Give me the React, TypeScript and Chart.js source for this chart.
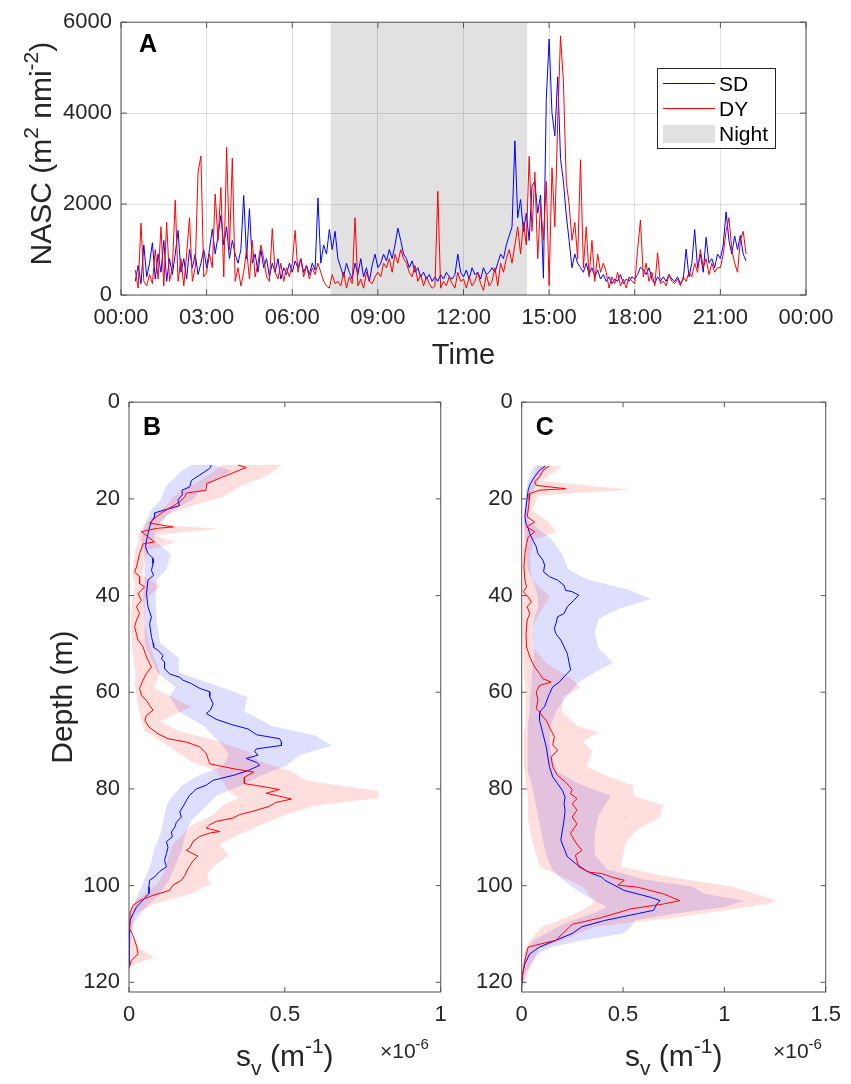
import React, { useEffect, useRef } from 'react';
import { Chart, registerables } from 'chart.js';

Chart.register(...registerables);

// ---------------- Panel A data (NASC time series) ----------------
const TIME_START_H = 0.5;
const TIME_STEP_H = 0.1;
const TIME_TICK_LABELS = ['00:00', '03:00', '06:00', '09:00', '12:00', '15:00', '18:00', '21:00', '00:00'];
const NIGHT_START_H = 7.35;
const NIGHT_END_H = 14.23;

const NASC_SD = [
  300, 650, 250, 1100, 400,
  700, 1150, 350, 900, 500, 1200, 300, 800, 450, 900,
  1420, 500, 800, 350, 1000, 600, 900, 450, 700, 1000,
  600, 1000, 1450, 900, 1300, 1750, 1100, 1500, 800, 1200,
  900, 700, 1000, 2190, 800, 1900, 700, 900, 500, 1000,
  600, 800, 400, 700, 500, 800, 350, 600, 450, 700,
  500, 750, 600, 800, 500, 650, 450, 700, 550, 2135,
  700, 1100, 900, 1440, 1000, 1400, 800, 600, 400, 700,
  500, 350, 700, 450, 800, 400, 600, 300, 650, 900,
  600, 700, 900, 750, 1000, 800, 1100, 1470, 1200, 900,
  800, 600, 750, 500, 600, 400, 500, 350, 450, 300,
  400, 300, 450, 350, 500, 400, 350, 450, 900, 500,
  400, 550, 350, 600, 450, 500, 350, 600, 450, 500,
  600, 500, 700, 900, 800, 1100, 1300, 1500, 3390, 1700,
  2100, 1400, 1800, 1200, 2400, 2500, 1800, 2200, 370, 4300,
  5630, 4000, 3500, 4800, 3000, 2500, 1760, 1200, 600, 900,
  700, 600, 500, 700, 450, 600, 400, 550, 350, 450,
  300, 400, 250, 350, 300, 450, 250, 350, 300, 400,
  350, 450, 610, 550, 450, 600, 350, 250, 400, 300,
  400, 300, 450, 350, 300, 400, 250, 350, 1010, 400,
  700, 1440, 600, 900, 500, 1270, 700, 800, 600, 900,
  800, 1100, 1830, 1200, 900, 1300, 1000, 1310, 900, 750,
];

const NASC_DY = [
  550, 150, 1580, 300, 200,
  450, 250, 1000, 350, 1500, 200, 1600, 300, 600, 2085,
  300, 800, 200, 900, 1700, 300, 600, 2700, 3060, 400,
  500, 900, 600, 2220, 1200, 2365, 400, 3250, 1000, 3010,
  300, 600, 200, 500, 1000, 350, 1200, 400, 700, 1100,
  800, 400, 300, 1460, 500, 350, 700, 300, 600, 400,
  700, 1420, 500, 800, 400, 650, 350, 600, 450, 700,
  500, 300, 200, 150, 450, 250, 300, 200, 500, 150,
  400, 250, 1700, 200, 350, 150, 500, 300, 250, 400,
  500, 400, 700, 600, 800, 500, 900, 700, 1000, 800,
  700, 500, 400, 650, 300, 450, 200, 400, 250, 150,
  200, 2280, 150, 300, 200, 400, 250, 150, 500, 300,
  350, 150, 400, 200, 300, 500, 250, 100, 450, 200,
  300, 600, 200, 700, 500, 800, 1000, 700, 1100, 1500,
  900, 1600, 1100, 3050, 1400, 2700, 800, 2000, 1200, 2500,
  200, 2800, 1500, 3800, 5700, 4700, 2500, 2000, 1200, 1600,
  800, 2975, 600, 1500, 400, 1200, 300, 900, 500, 700,
  500, 150, 400, 250, 500, 200, 350, 150, 400, 300,
  250, 1000, 1650, 400, 700, 300, 500, 200, 930, 250,
  300, 200, 450, 300, 250, 350, 200, 400, 300, 500,
  400, 700, 500, 1000, 600, 800, 450, 700, 500, 600,
  600, 900, 1400, 1700, 1000, 700, 500, 1200, 1400, 900,
];

// ---------------- Panel B data: [depth m, sv (x1e-6 m^-1)] ----------------
const B_SD_PROFILE: [number, number][] = [
  [13.0, 0.264], [13.7, 0.259], [16.2, 0.2], [17.5, 0.195], [18.2, 0.17], [19.2, 0.171], [20.2, 0.157], [21.4, 0.162],
  [22.0, 0.13], [22.9, 0.082], [23.7, 0.082], [24.7, 0.072], [25.8, 0.066], [28.6, 0.056], [29.9, 0.053], [31.3, 0.061],
  [32.3, 0.077], [33.4, 0.077], [34.8, 0.072], [35.8, 0.079], [36.8, 0.061], [39.6, 0.056], [42.3, 0.061], [44.5, 0.072],
  [45.8, 0.066], [48.5, 0.072], [49.8, 0.077], [50.7, 0.079], [51.3, 0.093], [52.4, 0.109], [53.1, 0.104], [53.7, 0.114],
  [55.1, 0.114], [56.2, 0.13], [56.9, 0.163], [57.5, 0.173], [58.2, 0.2], [59.2, 0.227], [59.9, 0.259], [60.9, 0.259],
  [62.4, 0.27], [63.7, 0.261], [64.4, 0.248], [65.6, 0.28], [66.7, 0.33], [67.6, 0.382], [68.8, 0.41], [69.6, 0.483],
  [70.3, 0.489], [71.0, 0.489], [71.7, 0.409], [72.3, 0.403], [73.0, 0.414], [73.7, 0.376], [74.5, 0.409], [75.1, 0.419],
  [76.2, 0.382], [77.2, 0.334], [78.2, 0.27], [79.2, 0.248], [80.0, 0.216], [80.7, 0.205], [81.3, 0.194], [82.4, 0.184],
  [83.7, 0.173], [84.7, 0.163], [85.8, 0.168], [86.9, 0.152], [87.9, 0.147], [88.9, 0.136], [89.9, 0.139], [90.9, 0.12],
  [92.1, 0.125], [93.4, 0.12], [94.8, 0.114], [96.1, 0.12], [97.1, 0.098], [98.2, 0.082], [98.9, 0.066], [100.3, 0.064],
  [101.6, 0.064], [103.0, 0.045], [104.4, 0.024], [105.8, 0.013], [107.1, 0.004], [108.5, 0.002], [110.7, 0], [116.8, 0],
];

const B_DY_PROFILE: [number, number][] = [
  [13.0, 0.35], [13.5, 0.376], [16.8, 0.25], [18.2, 0.247], [18.8, 0.184], [19.6, 0.179], [20.6, 0.163], [21.5, 0.141],
  [22.7, 0.109], [23.7, 0.088], [25.0, 0.066], [25.8, 0.141], [26.1, 0.088], [26.8, 0.04], [28.9, 0.082], [29.3, 0.045],
  [31.3, 0.034], [34.1, 0.024], [35.1, 0.018], [36.1, 0.034], [37.5, 0.034], [38.2, 0.05], [39.6, 0.029], [41.0, 0.04],
  [42.3, 0.024], [43.7, 0.034], [45.1, 0.024], [46.5, 0.018], [49.2, 0.029], [50.6, 0.045], [52.7, 0.056], [54.8, 0.072],
  [56.1, 0.056], [57.5, 0.045], [59.2, 0.034], [60.6, 0.04], [61.7, 0.056], [62.7, 0.066], [63.7, 0.077], [64.8, 0.056],
  [65.8, 0.051], [67.2, 0.064], [68.6, 0.093], [69.6, 0.125], [70.3, 0.184], [71.3, 0.227], [72.7, 0.248], [74.8, 0.259],
  [75.8, 0.334], [76.5, 0.4], [77.6, 0.37], [78.9, 0.37], [79.2, 0.4], [80.1, 0.483], [80.9, 0.44], [81.5, 0.483],
  [82.1, 0.521], [82.8, 0.47], [83.6, 0.45], [84.6, 0.398], [85.3, 0.355], [86.0, 0.334], [86.7, 0.28], [87.4, 0.259],
  [88.1, 0.248], [88.8, 0.291], [89.1, 0.26], [89.8, 0.227], [90.9, 0.205], [92.2, 0.195], [92.7, 0.184], [93.9, 0.221],
  [94.9, 0.205], [96.5, 0.189], [97.9, 0.179], [98.9, 0.168], [99.9, 0.141], [101.0, 0.13], [102.0, 0.077], [103.1, 0.034],
  [104.1, 0.013], [105.5, 0.004], [108.9, 0.002], [110.3, 0.013], [112.4, 0.024], [114.1, 0.029], [115.5, 0.007], [117.2, 0],
];

// [depth, low, high]
const B_SD_BAND: [number, number, number][] = [
  [13.0, 0.2, 0.27], [14.2, 0.17, 0.33], [17.3, 0.12, 0.25], [20.3, 0.1, 0.2], [22.4, 0.07, 0.14], [25.4, 0.05, 0.09],
  [28.5, 0.04, 0.08], [31.5, 0.05, 0.135], [34.6, 0.05, 0.12], [36.6, 0.05, 0.09], [40.7, 0.045, 0.085], [45.8, 0.05, 0.09],
  [49.8, 0.05, 0.1], [52.9, 0.07, 0.16], [55.9, 0.09, 0.16], [59.0, 0.15, 0.3], [61.0, 0.13, 0.38], [64.0, 0.16, 0.37],
  [67.0, 0.24, 0.46], [69.0, 0.27, 0.6], [71.0, 0.3, 0.65], [73.0, 0.32, 0.55], [75.3, 0.3, 0.5], [77.3, 0.22, 0.42],
  [79.3, 0.17, 0.36], [81.4, 0.14, 0.28], [83.4, 0.12, 0.25], [86.5, 0.11, 0.2], [89.5, 0.1, 0.18], [92.6, 0.08, 0.17],
  [95.6, 0.07, 0.15], [98.7, 0.05, 0.13], [101.7, 0.03, 0.1], [104.8, 0.01, 0.05], [107.8, 0, 0.015], [111.9, 0, 0.005],
];

const B_DY_BAND: [number, number, number][] = [
  [13.0, 0.3, 0.49], [15.3, 0.25, 0.44], [17.3, 0.2, 0.36], [19.6, 0.14, 0.3], [21.4, 0.12, 0.2], [23.4, 0.08, 0.12],
  [25.4, 0.05, 0.1], [26.2, 0.04, 0.29], [27.5, 0.03, 0.08], [29.0, 0.03, 0.15], [30.5, 0.02, 0.06], [35.6, 0.01, 0.04],
  [38.1, 0.02, 0.1], [40.7, 0.01, 0.05], [45.8, 0.005, 0.05], [50.9, 0.01, 0.07], [55.9, 0.02, 0.1], [59.0, 0.02, 0.08],
  [63.0, 0.03, 0.2], [66.0, 0.04, 0.1], [68.0, 0.05, 0.16], [70.0, 0.1, 0.28], [72.2, 0.15, 0.38], [74.3, 0.2, 0.42],
  [76.3, 0.28, 0.52], [78.3, 0.3, 0.57], [80.4, 0.32, 0.8], [81.9, 0.35, 0.8], [83.4, 0.3, 0.6], [85.4, 0.27, 0.5],
  [87.5, 0.2, 0.42], [89.5, 0.17, 0.35], [91.5, 0.14, 0.29], [93.6, 0.13, 0.32], [95.6, 0.12, 0.28], [97.6, 0.11, 0.25],
  [99.7, 0.09, 0.26], [101.7, 0.05, 0.2], [103.8, 0.01, 0.08], [105.8, 0, 0.02], [109.9, 0, 0.005], [112.8, 0, 0.03],
  [114.8, 0, 0.08], [116.5, 0, 0.01],
];

// ---------------- Panel C data ----------------
const C_SD_PROFILE: [number, number][] = [
  [13.2, 0.117], [14.1, 0.088], [15.4, 0.064], [16.8, 0.043], [18.2, 0.032], [19.9, 0.027], [21.7, 0.021], [23.7, 0.016],
  [25.1, 0.021], [26.1, 0.032], [27.2, 0.04], [28.6, 0.056], [29.9, 0.072], [31.3, 0.08], [32.7, 0.105], [33.7, 0.113],
  [35.1, 0.108], [36.1, 0.137], [36.8, 0.177], [37.9, 0.209], [38.9, 0.217], [39.2, 0.249], [39.9, 0.281], [41.0, 0.257],
  [42.3, 0.225], [43.7, 0.209], [44.4, 0.177], [45.8, 0.169], [46.8, 0.161], [47.9, 0.169], [49.2, 0.193], [50.6, 0.209],
  [52.0, 0.225], [53.7, 0.233], [55.4, 0.241], [56.1, 0.225], [56.8, 0.209], [57.9, 0.185], [58.9, 0.153], [60.3, 0.137],
  [61.7, 0.124], [63.0, 0.113], [63.7, 0.096], [64.4, 0.088], [65.8, 0.088], [68.6, 0.105], [71.3, 0.121], [73.4, 0.129],
  [75.4, 0.137], [77.5, 0.153], [78.9, 0.177], [80.3, 0.201], [81.7, 0.214], [83.0, 0.209], [84.4, 0.214], [86.5, 0.209],
  [88.5, 0.201], [90.6, 0.193], [92.3, 0.209], [94.0, 0.225], [95.4, 0.265], [96.8, 0.314], [97.5, 0.346], [98.2, 0.394],
  [98.9, 0.41], [99.6, 0.442], [100.3, 0.474], [101.0, 0.506], [101.7, 0.571], [102.4, 0.635], [103.1, 0.683], [103.8, 0.667],
  [105.1, 0.651], [105.8, 0.571], [107.2, 0.41], [108.5, 0.297], [109.9, 0.249], [111.3, 0.169], [112.7, 0.088], [114.1, 0.04],
  [116.1, 0.016], [118.2, 0.005], [121.0, 0],
];

const C_DY_PROFILE: [number, number][] = [
  [13.2, 0.137], [14.1, 0.105], [15.4, 0.088], [16.5, 0.064], [17.2, 0.072], [17.9, 0.217], [18.2, 0.088], [18.9, 0.04],
  [20.3, 0.037], [22.3, 0.032], [23.7, 0.027], [24.8, 0.064], [25.8, 0.024], [26.8, 0.064], [27.9, 0.032], [29.2, 0.024],
  [31.3, 0.016], [34.1, 0.011], [36.8, 0.016], [38.2, 0.024], [39.2, 0.008], [40.3, 0.032], [41.3, 0.048], [42.3, 0.027],
  [43.7, 0.04], [45.1, 0.027], [47.9, 0.021], [50.6, 0.024], [52.7, 0.04], [54.8, 0.064], [56.1, 0.088], [57.2, 0.105],
  [57.9, 0.145], [58.6, 0.088], [59.9, 0.072], [61.7, 0.08], [63.4, 0.072], [64.1, 0.088], [65.1, 0.105], [65.8, 0.121],
  [67.9, 0.145], [69.2, 0.161], [70.9, 0.153], [72.0, 0.177], [73.4, 0.145], [75.4, 0.153], [77.2, 0.177], [78.6, 0.217],
  [80.1, 0.249], [81.0, 0.241], [82.0, 0.273], [83.0, 0.249], [84.4, 0.273], [85.8, 0.249], [87.2, 0.273], [89.2, 0.241],
  [91.0, 0.265], [92.7, 0.297], [93.7, 0.265], [96.1, 0.281], [97.2, 0.33], [97.5, 0.394], [98.2, 0.442], [98.9, 0.506],
  [99.9, 0.474], [100.3, 0.571], [101.7, 0.699], [103.1, 0.78], [103.8, 0.699], [104.8, 0.539], [106.6, 0.394], [108.0, 0.249],
  [111.3, 0.169], [112.7, 0.032], [115.4, 0.016], [119.6, 0],
];

const C_SD_BAND: [number, number, number][] = [
  [13.2, 0.06, 0.13], [16.3, 0.03, 0.08], [20.3, 0.015, 0.04], [24.4, 0.01, 0.03], [28.5, 0.02, 0.15], [31.5, 0.02, 0.2],
  [34.6, 0.03, 0.23], [36.6, 0.05, 0.32], [38.7, 0.07, 0.52], [40.7, 0.08, 0.64], [42.7, 0.08, 0.48], [44.8, 0.06, 0.38],
  [47.8, 0.05, 0.36], [50.9, 0.06, 0.38], [53.9, 0.06, 0.45], [55.9, 0.05, 0.36], [58.0, 0.05, 0.28], [61.0, 0.04, 0.22],
  [64.0, 0.04, 0.17], [67.1, 0.03, 0.14], [71.2, 0.03, 0.14], [76.3, 0.03, 0.17], [79.3, 0.05, 0.3], [81.4, 0.06, 0.44],
  [85.4, 0.08, 0.38], [89.5, 0.1, 0.36], [93.6, 0.12, 0.36], [96.6, 0.15, 0.42], [98.7, 0.2, 0.6], [100.3, 0.25, 0.85],
  [101.7, 0.3, 0.9], [103.1, 0.36, 1.1], [104.4, 0.42, 1.0], [105.8, 0.35, 0.75], [107.2, 0.25, 0.56], [108.5, 0.18, 0.54],
  [109.9, 0.12, 0.5], [111.3, 0.06, 0.3], [112.7, 0.03, 0.15], [114.1, 0.015, 0.08], [118.0, 0, 0.02], [121.0, 0, 0.005],
];

const C_DY_BAND: [number, number, number][] = [
  [13.2, 0.08, 0.2], [16.3, 0.05, 0.1], [18.1, 0.04, 0.54], [19.3, 0.03, 0.08], [22.4, 0.02, 0.05], [24.7, 0.01, 0.13],
  [26.8, 0.01, 0.17], [28.5, 0.01, 0.06], [32.5, 0.005, 0.04], [36.6, 0.005, 0.05], [40.3, 0.005, 0.14], [42.7, 0.005, 0.1],
  [46.8, 0.005, 0.05], [50.9, 0.005, 0.06], [53.9, 0.01, 0.12], [57.0, 0.01, 0.24], [59.0, 0.02, 0.29], [61.0, 0.02, 0.2],
  [64.1, 0.02, 0.2], [67.1, 0.02, 0.28], [68.2, 0.01, 0.38], [70.2, 0.01, 0.3], [72.2, 0.01, 0.35], [75.3, 0.01, 0.32],
  [77.3, 0.02, 0.42], [79.3, 0.02, 0.55], [81.4, 0.03, 0.55], [83.4, 0.03, 0.7], [85.9, 0.03, 0.68], [88.5, 0.04, 0.57],
  [90.5, 0.05, 0.52], [93.6, 0.07, 0.5], [96.1, 0.09, 0.49], [98.2, 0.2, 0.73], [100.3, 0.3, 1.05], [103.1, 0.36, 1.26],
  [103.8, 0.35, 1.21], [105.1, 0.3, 1.0], [106.6, 0.22, 0.76], [108.5, 0.1, 0.36], [111.3, 0.04, 0.2], [112.9, 0.02, 0.09],
  [116.0, 0.01, 0.05], [120.0, 0, 0.01],
];

// ---------------- styling ----------------
const FONT_FAMILY = '"Liberation Sans", Arial, Helvetica, sans-serif';
const TEXT_COLOR = '#262626';
const AXIS_COLOR = '#555555';
const SD_COLOR = '#0000ff';
const DY_COLOR = '#ff0000';
const SD_BAND_COLOR = 'rgba(0,0,255,0.13)';
const DY_BAND_COLOR = 'rgba(255,0,0,0.13)';
const NIGHT_COLOR = '#e1e1e1';
const GRID_COLOR = 'rgba(38,38,38,0.15)';

type Run = [string, 'n' | 'sup' | 'sub'];

function runFont(r: Run, size: number, bold: boolean) {
  const s = r[1] === 'n' ? size : Math.round(size * 0.7);
  return `${bold ? 'bold ' : ''}${s}px ${FONT_FAMILY}`;
}

function drawRich(ctx: CanvasRenderingContext2D, runs: Run[], x: number, y: number, size: number, align: 'center' | 'left', bold = false, color = TEXT_COLOR) {
  const widths = runs.map((r) => {
    ctx.font = runFont(r, size, bold);
    return ctx.measureText(r[0]).width;
  });
  const total = widths.reduce((a, b) => a + b, 0);
  let cx = align === 'center' ? x - total / 2 : x;
  ctx.textBaseline = 'alphabetic';
  ctx.textAlign = 'left';
  ctx.fillStyle = color;
  runs.forEach((r, i) => {
    ctx.font = runFont(r, size, bold);
    const dy = r[1] === 'sup' ? -size * 0.42 : r[1] === 'sub' ? size * 0.3 : 0;
    ctx.fillText(r[0], cx, y + dy);
    cx += widths[i];
  });
}

function drawBoxAndTicks(chart: any, tickLen: number) {
  const { ctx, chartArea: a } = chart;
  const xs = chart.scales.x;
  const ys = chart.scales.y;
  ctx.save();
  ctx.strokeStyle = AXIS_COLOR;
  ctx.lineWidth = 1;
  ctx.beginPath();
  xs.ticks.forEach((t: any) => {
    const p = xs.getPixelForValue(t.value);
    ctx.moveTo(p, a.bottom);
    ctx.lineTo(p, a.bottom - tickLen);
    ctx.moveTo(p, a.top);
    ctx.lineTo(p, a.top + tickLen);
  });
  ys.ticks.forEach((t: any) => {
    const p = ys.getPixelForValue(t.value);
    ctx.moveTo(a.left, p);
    ctx.lineTo(a.left + tickLen, p);
    ctx.moveTo(a.right, p);
    ctx.lineTo(a.right - tickLen, p);
  });
  ctx.stroke();
  ctx.strokeRect(a.left, a.top, a.right - a.left, a.bottom - a.top);
  ctx.restore();
}

const tickFont = { family: FONT_FAMILY, size: 22 };
const plainNumber = (v: number) => String(Math.round(v * 1000) / 1000);

function lineDataset(label: string, points: { x: number; y: number }[], color: string, order: number) {
  return {
    label,
    data: points,
    borderColor: color,
    backgroundColor: color,
    borderWidth: 1,
    pointRadius: 0,
    tension: 0,
    fill: false,
    order,
  };
}

function bandDataset(label: string, band: [number, number, number][], color: string, order: number) {
  const upper = band.map(([d, , hi]) => ({ x: hi, y: d }));
  const lower = band.slice().reverse().map(([d, lo]) => ({ x: lo, y: d }));
  return {
    label,
    data: [...upper, ...lower],
    borderColor: 'rgba(0,0,0,0)',
    backgroundColor: color,
    borderWidth: 0,
    pointRadius: 0,
    tension: 0,
    fill: 'shape',
    order,
  };
}

// ---------------- Panel A config ----------------
function configA(): any {
  const times = NASC_SD.map((_, i) => TIME_START_H + i * TIME_STEP_H);
  const sd = times.map((t, i) => ({ x: t, y: NASC_SD[i] }));
  const dy = times.map((t, i) => ({ x: t, y: NASC_DY[i] }));
  const annot = {
    id: 'annotA',
    beforeDraw(chart: any) {
      const { ctx, chartArea: a } = chart;
      const xs = chart.scales.x;
      const x0 = xs.getPixelForValue(NIGHT_START_H);
      const x1 = xs.getPixelForValue(NIGHT_END_H);
      ctx.save();
      ctx.fillStyle = NIGHT_COLOR;
      ctx.fillRect(x0, a.top, x1 - x0, a.bottom - a.top);
      ctx.restore();
    },
    afterDatasetsDraw(chart: any) {
      drawBoxAndTicks(chart, 6);
    },
    afterDraw(chart: any) {
      const { ctx, chartArea: a } = chart;
      ctx.save();
      drawRich(ctx, [['A', 'n']], a.left + 18, 52, 25, 'left', true, '#000');
      // legend
      const lx = 657, ly = 68, lw = 118, lh = 80;
      ctx.fillStyle = '#ffffff';
      ctx.fillRect(lx, ly, lw, lh);
      ctx.strokeStyle = TEXT_COLOR;
      ctx.lineWidth = 1;
      ctx.strokeRect(lx + 0.5, ly + 0.5, lw, lh);
      ctx.lineWidth = 1;
      ctx.strokeStyle = SD_COLOR;
      ctx.beginPath(); ctx.moveTo(663, 83.5); ctx.lineTo(715, 83.5); ctx.stroke();
      ctx.strokeStyle = DY_COLOR;
      ctx.beginPath(); ctx.moveTo(663, 108.5); ctx.lineTo(715, 108.5); ctx.stroke();
      ctx.fillStyle = NIGHT_COLOR;
      ctx.fillRect(663, 125, 52, 18);
      drawRich(ctx, [['SD', 'n']], 719, 91, 21, 'left', false, '#000');
      drawRich(ctx, [['DY', 'n']], 719, 116, 21, 'left', false, '#000');
      drawRich(ctx, [['Night', 'n']], 719, 141, 21, 'left', false, '#000');
      // axis titles
      drawRich(ctx, [['Time', 'n']], (a.left + a.right) / 2, 364, 29, 'center');
      ctx.translate(51, (a.top + a.bottom) / 2 - 5);
      ctx.rotate(-Math.PI / 2);
      drawRich(ctx, [['NASC (m', 'n'], ['2', 'sup'], [' nmi', 'n'], ['-2', 'sup'], [')', 'n']], 0, 0, 30, 'center');
      ctx.restore();
    },
  };
  return {
    type: 'line',
    data: {
      datasets: [
        lineDataset('SD', sd, SD_COLOR, 1),
        lineDataset('DY', dy, DY_COLOR, 0),
      ],
    },
    options: {
      animation: false,
      responsive: false,
      maintainAspectRatio: false,
      layout: { padding: { left: 0, top: 16, right: 45, bottom: 25 } },
      plugins: { legend: { display: false }, tooltip: { enabled: false } },
      scales: {
        x: {
          type: 'linear',
          min: 0,
          max: 24,
          afterFit: (s: any) => { s.height = 60; },
          grid: { color: GRID_COLOR, drawTicks: false, lineWidth: 1 },
          border: { display: false },
          ticks: {
            stepSize: 3,
            autoSkip: false,
            maxRotation: 0,
            padding: 10,
            color: TEXT_COLOR,
            font: tickFont,
            callback: (v: number) => TIME_TICK_LABELS[Math.round(v / 3)] ?? '',
          },
        },
        y: {
          min: 0,
          max: 6000,
          afterFit: (s: any) => { s.width = 121; },
          grid: { color: GRID_COLOR, drawTicks: false, lineWidth: 1 },
          border: { display: false },
          ticks: { stepSize: 2000, padding: 9, color: TEXT_COLOR, font: tickFont, callback: plainNumber },
        },
      },
    },
    plugins: [annot],
  };
}

// ---------------- Panels B and C ----------------
function profileConfig(opts: {
  letter: string;
  sd: [number, number][];
  dy: [number, number][];
  sdBand: [number, number, number][];
  dyBand: [number, number, number][];
  xMax: number;
  yWidth: number;
  padRight: number;
  expX: number;
  showYTitle: boolean;
}): any {
  const annot = {
    id: 'annot' + opts.letter,
    afterDatasetsDraw(chart: any) {
      drawBoxAndTicks(chart, 5);
    },
    afterDraw(chart: any) {
      const { ctx, chartArea: a } = chart;
      ctx.save();
      drawRich(ctx, [[opts.letter, 'n']], a.left + 14, 55, 25, 'left', true, '#000');
      drawRich(ctx, [['s', 'n'], ['v', 'sub'], [' (m', 'n'], ['-1', 'sup'], [')', 'n']], (a.left + a.right) / 2, 686, 30, 'center');
      drawRich(ctx, [['\u00d710', 'n'], ['-6', 'sup']], opts.expX, 678, 21, 'left');
      if (opts.showYTitle) {
        ctx.translate(72, (a.top + a.bottom) / 2);
        ctx.rotate(-Math.PI / 2);
        drawRich(ctx, [['Depth (m)', 'n']], 0, 0, 30, 'center');
      }
      ctx.restore();
    },
  };
  const toPts = (p: [number, number][]) => p.map(([d, v]) => ({ x: v, y: d }));
  return {
    type: 'line',
    data: {
      datasets: [
        lineDataset('DY', toPts(opts.dy), DY_COLOR, 0),
        lineDataset('SD', toPts(opts.sd), SD_COLOR, 1),
        bandDataset('DY range', opts.dyBand, DY_BAND_COLOR, 2),
        bandDataset('SD range', opts.sdBand, SD_BAND_COLOR, 3),
      ],
    },
    options: {
      animation: false,
      responsive: false,
      maintainAspectRatio: false,
      layout: { padding: { left: 0, top: 22, right: opts.padRight, bottom: 52 } },
      plugins: { legend: { display: false }, tooltip: { enabled: false } },
      scales: {
        x: {
          type: 'linear',
          min: 0,
          max: opts.xMax,
          afterFit: (s: any) => { s.height = 40; },
          grid: { display: false, drawTicks: false },
          border: { display: false },
          ticks: { stepSize: 0.5, autoSkip: false, maxRotation: 0, padding: 10, color: TEXT_COLOR, font: tickFont, includeBounds: false, callback: plainNumber },
        },
        y: {
          type: 'linear',
          reverse: true,
          min: 0,
          max: 122,
          afterFit: (s: any) => { s.width = opts.yWidth; },
          grid: { display: false, drawTicks: false },
          border: { display: false },
          ticks: { stepSize: 20, padding: 9, color: TEXT_COLOR, font: tickFont, includeBounds: false, callback: plainNumber },
        },
      },
    },
    plugins: [annot],
  };
}

function configB() {
  return profileConfig({
    letter: 'B', sd: B_SD_PROFILE, dy: B_DY_PROFILE, sdBand: B_SD_BAND, dyBand: B_DY_BAND,
    xMax: 1, yWidth: 129, padRight: 19.3, expX: 380, showYTitle: true,
  });
}

function configC() {
  return profileConfig({
    letter: 'C', sd: C_SD_PROFILE, dy: C_DY_PROFILE, sdBand: C_SD_BAND, dyBand: C_DY_BAND,
    xMax: 1.5, yWidth: 61.7, padRight: 18.3, expX: 313, showYTitle: false,
  });
}

function ChartCanvas(props: { make: () => any; left: number; top: number; width: number; height: number }) {
  const ref = useRef<HTMLCanvasElement>(null);
  useEffect(() => {
    const chart = new Chart(ref.current as HTMLCanvasElement, props.make());
    return () => chart.destroy();
  }, []);
  return (
    <canvas
      ref={ref}
      width={props.width}
      height={props.height}
      style={{ position: 'absolute', left: props.left, top: props.top, width: props.width, height: props.height }}
    />
  );
}

export default function App() {
  return (
    <div style={{ position: 'absolute', left: 0, top: 0, width: 851, height: 1084, background: '#ffffff', overflow: 'hidden' }}>
      <ChartCanvas make={configA} left={0} top={0} width={851} height={380} />
      <ChartCanvas make={configB} left={0} top={380} width={460} height={704} />
      <ChartCanvas make={configC} left={460} top={380} width={391} height={704} />
    </div>
  );
}
